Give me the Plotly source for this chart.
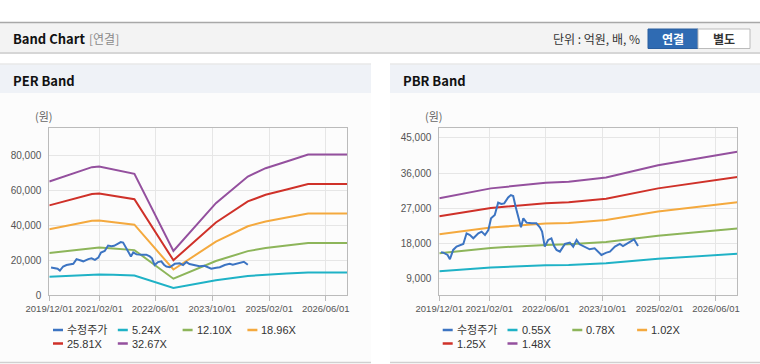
import plotly.graph_objects as go

# ---------------- data ----------------
price_dates = ["2019-12-16","2020-01-05","2020-02-10","2020-03-01","2020-03-29","2020-04-27","2020-06-24",
               "2020-07-22","2020-08-20","2020-09-18","2020-10-31","2020-11-28","2020-12-27","2021-01-25",
               "2021-02-17","2021-03-21","2021-04-19","2021-05-17","2021-06-10","2021-07-14","2021-08-06",
               "2021-08-26","2021-09-16","2021-10-03","2021-11-01","2021-11-21","2021-12-19","2022-02-01",
               "2022-03-13","2022-04-12","2022-05-01","2022-05-24","2022-06-22","2022-07-20","2022-08-12",
               "2022-09-02","2022-10-01","2022-11-13","2022-12-25","2023-01-23","2023-02-21","2023-03-19",
               "2023-05-01","2023-06-13","2023-07-26","2023-08-24","2023-09-22","2023-11-04","2023-12-04",
               "2024-01-16","2024-02-27","2024-03-25","2024-05-07","2024-06-28","2024-08-01"]
price_values = [15800,15710,15120,14010,16400,17240,17920,20640,20210,19360,20640,21060,20210,21480,
                24450,25300,28440,28100,28270,29800,30400,30150,27430,25300,22160,24450,23350,23180,
                23180,22160,21060,17240,18940,19360,17400,16400,15960,17920,18260,17240,18940,17830,
                17240,16560,16820,15960,15120,15710,15960,17240,17920,17400,18260,19100,17400]

per_dates = ["2019-12-01","2020-12-01","2021-02-01","2021-06-01","2021-10-01","2021-12-01","2022-11-01",
             "2023-11-01","2024-08-01","2025-01-01","2025-07-01","2026-01-01","2026-12-01"]
per_524 = [10459,11790,11853,11596,11308,11177,4056,8468,10920,11690,12304,12959,12959]
per_1210 = [24152,27225,27370,26777,26112,25809,9365,19554,25216,26995,28411,29923,29923]
per_1896 = [37844,42660,42888,41958,40916,40442,14675,30639,39513,42300,44518,46888,46888]
per_2581 = [51517,58073,58382,57118,55698,55053,19977,41709,53788,57582,60602,63828,63828]
per_3267 = [65209,73508,73900,72299,70502,69685,25287,52795,68084,72887,76709,80793,80793]

pbr_dates = ["2019-12-01","2021-02-15","2022-06-01","2022-12-15","2023-11-01","2024-08-01","2025-01-20","2026-12-01"]
pbr_055 = [10984,11930,12463,12562,12969,13673,14124,15395]
pbr_078 = [15577,16918,17675,17815,18392,19391,20030,21832]
pbr_102 = [20369,22124,23113,23297,24052,25357,26194,28550]
pbr_125 = [24963,27113,28325,28550,29475,31075,32100,34988]
pbr_148 = [29556,32101,33537,33803,34898,36793,38006,41425]

per_names = ["수정주가", "5.24X", "12.10X", "18.96X", "25.81X", "32.67X"]
pbr_names = ["수정주가", "0.55X", "0.78X", "1.02X", "1.25X", "1.48X"]

x_tickvals = ["2019-12-01","2021-02-01","2022-06-01","2023-10-01","2025-02-01","2026-06-01"]
x_ticktext = ["2019/12/01","2021/02/01","2022/06/01","2023/10/01","2025/02/01","2026/06/01"]
per_yticks = [0, 20000, 40000, 60000, 80000]
pbr_yticks = [9000, 18000, 27000, 36000, 45000]

colors = ["#3C74C2", "#1FB2C6", "#8DB55A", "#F4A93E", "#CF3129", "#94509E"]

# ---------------- figure ----------------
W, H = 760, 364
def px(x): return x / W
def py(y): return 1 - y / H

fig = go.Figure()

per_series = [(price_dates, price_values), (per_dates, per_524), (per_dates, per_1210),
              (per_dates, per_1896), (per_dates, per_2581), (per_dates, per_3267)]
pbr_series = [(price_dates, price_values), (pbr_dates, pbr_055), (pbr_dates, pbr_078),
              (pbr_dates, pbr_102), (pbr_dates, pbr_125), (pbr_dates, pbr_148)]

order = [1, 2, 3, 4, 5, 0]
for i in order:
    d, v = per_series[i]
    fig.add_trace(go.Scatter(x=d, y=v, mode="lines", name=per_names[i], showlegend=False,
                             line=dict(color=colors[i], width=2), xaxis="x", yaxis="y"))
for i in order:
    d, v = pbr_series[i]
    fig.add_trace(go.Scatter(x=d, y=v, mode="lines", name=pbr_names[i], showlegend=False,
                             line=dict(color=colors[i], width=2), xaxis="x2", yaxis="y2"))

xtickfont = dict(family="Liberation Sans, Arial", size=9.5, color="#555555")
ytickfont = dict(family="Liberation Sans, Arial", size=10, color="#555555")
axis_common = dict(showline=True, linecolor="#BBBBBB", linewidth=1, mirror=True, automargin=False,
                   gridcolor="#E6E6E6", gridwidth=1, zeroline=False)

plot_top, plot_bot = 128, 295
fig.update_layout(
    width=W, height=H, autosize=False,
    margin=dict(l=0, r=0, t=0, b=0, pad=0),
    paper_bgcolor="#FFFFFF", plot_bgcolor="#FFFFFF",
    xaxis=dict(domain=[px(49.3), px(347)], anchor="y", type="date",
               range=["2019-12-01", "2026-12-01"], tickvals=x_tickvals, ticktext=x_ticktext,
               ticks="outside", ticklen=5, tickcolor="#BBBBBB", tickangle=0, tickfont=xtickfont,
               **axis_common),
    yaxis=dict(domain=[py(plot_bot), py(plot_top)], anchor="x", range=[0, 96000],
               tickvals=per_yticks, ticktext=[f"{v:,}" for v in per_yticks],
               ticks="", ticklabelstandoff=5, tickfont=ytickfont, **axis_common),
    xaxis2=dict(domain=[px(439.3), px(737.3)], anchor="y2", type="date",
                range=["2019-12-01", "2026-12-01"], tickvals=x_tickvals, ticktext=x_ticktext,
                ticks="outside", ticklen=5, tickcolor="#BBBBBB", tickangle=0, tickfont=xtickfont,
                **axis_common),
    yaxis2=dict(domain=[py(plot_bot), py(plot_top)], anchor="x2", range=[4900, 47500],
                tickvals=pbr_yticks, ticktext=[f"{v:,}" for v in pbr_yticks],
                ticks="", ticklabelstandoff=5, tickfont=ytickfont, **axis_common),
)

shapes = []
annots = []
kfont = "Noto Sans CJK KR, Liberation Sans, Arial"

# header bar
shapes.append(dict(type="rect", xref="paper", yref="paper", x0=0, x1=1, y0=py(53), y1=py(22),
                   fillcolor="#F3F3F3", line=dict(width=0), layer="below"))
shapes.append(dict(type="line", xref="paper", yref="paper", x0=0, x1=1, y0=py(22.5), y1=py(22.5),
                   line=dict(color="#A8A8A8", width=1.5)))
shapes.append(dict(type="line", xref="paper", yref="paper", x0=0, x1=1, y0=py(53), y1=py(53),
                   line=dict(color="#D6D6D6", width=2)))
annots.append(dict(x=px(11), y=py(39), xref="paper", yref="paper", xanchor="left", yanchor="middle",
                   text="<b>Band Chart</b>", showarrow=False, font=dict(family=kfont, size=13, color="#111111")))
annots.append(dict(x=px(87), y=py(39), xref="paper", yref="paper", xanchor="left", yanchor="middle",
                   text="[연결]", showarrow=False, font=dict(family=kfont, size=12, color="#8A8A8A")))
annots.append(dict(x=px(642), y=py(39), xref="paper", yref="paper", xanchor="right", yanchor="middle",
                   text="단위 : 억원, 배, %", showarrow=False, font=dict(family=kfont, size=12, color="#333333")))
shapes.append(dict(type="rect", xref="paper", yref="paper", x0=px(648), x1=px(698), y0=py(48.5), y1=py(29),
                   fillcolor="#2F6BB3", line=dict(color="#2A5E9E", width=1)))
shapes.append(dict(type="rect", xref="paper", yref="paper", x0=px(698), x1=px(750), y0=py(48.5), y1=py(29),
                   fillcolor="#FFFFFF", line=dict(color="#BBBBBB", width=1)))
annots.append(dict(x=px(673), y=py(39), xref="paper", yref="paper", xanchor="center", yanchor="middle",
                   text="<b>연결</b>", showarrow=False, font=dict(family=kfont, size=12, color="#FFFFFF")))
annots.append(dict(x=px(724), y=py(39), xref="paper", yref="paper", xanchor="center", yanchor="middle",
                   text="<b>별도</b>", showarrow=False, font=dict(family=kfont, size=12, color="#333333")))

# panels
for (x0, x1, title) in [(0, 371, "PER Band"), (390, 760, "PBR Band")]:
    shapes.append(dict(type="rect", xref="paper", yref="paper", x0=px(x0), x1=px(x1), y0=py(362), y1=py(93),
                       fillcolor="#FCFCFC", line=dict(width=0), layer="below"))
    shapes.append(dict(type="rect", xref="paper", yref="paper", x0=px(x0), x1=px(x1), y0=py(93), y1=py(64.5),
                       fillcolor="#EFF2F7", line=dict(width=0), layer="below"))
    shapes.append(dict(type="line", xref="paper", yref="paper", x0=px(x0), x1=px(x1), y0=py(64), y1=py(64),
                       line=dict(color="#DDDDDD", width=1)))
    shapes.append(dict(type="line", xref="paper", yref="paper", x0=px(x0), x1=px(x1), y0=py(362.5), y1=py(362.5),
                       line=dict(color="#D0D0D0", width=1.5)))
    annots.append(dict(x=px(x0 + 11), y=py(80), xref="paper", yref="paper", xanchor="left", yanchor="middle",
                       text=f"<b>{title}</b>", showarrow=False, font=dict(family=kfont, size=13, color="#111111")))

for xc in [44, 434]:
    annots.append(dict(x=px(xc), y=py(116), xref="paper", yref="paper", xanchor="center", yanchor="middle",
                       text="(원)", showarrow=False, font=dict(family=kfont, size=11, color="#666666")))

def legend(names, x_start):
    slots = [(0, 330), (1, 330), (2, 330), (3, 330), (0, 343.5), (1, 343.5)]
    for i, name in enumerate(names):
        col, y = slots[i]
        lx = x_start + col * 64.8
        shapes.append(dict(type="line", xref="paper", yref="paper", x0=px(lx), x1=px(lx + 10),
                           y0=py(y), y1=py(y), line=dict(color=colors[i], width=2.5)))
        annots.append(dict(x=px(lx + 12), y=py(y), xref="paper", yref="paper", xanchor="left",
                           yanchor="middle", text=name, showarrow=False,
                           font=dict(family="Liberation Sans, Noto Sans CJK KR, Arial", size=11, color="#333333")))

legend(per_names, 53)
legend(pbr_names, 442.7)

fig.update_layout(shapes=shapes, annotations=annots)

post = ("var h=document.documentElement,b=document.body;"
        "h.style.margin='0';h.style.padding='0';h.style.overflow='hidden';"
        "b.style.margin='0';b.style.padding='0';b.style.overflow='hidden';"
        "var d=document.getElementById('{plot_id}');d.style.position='absolute';d.style.left='0px';d.style.top='0px';")
fig.write_html("out.html", config={"displayModeBar": False, "responsive": False}, post_script=post)
